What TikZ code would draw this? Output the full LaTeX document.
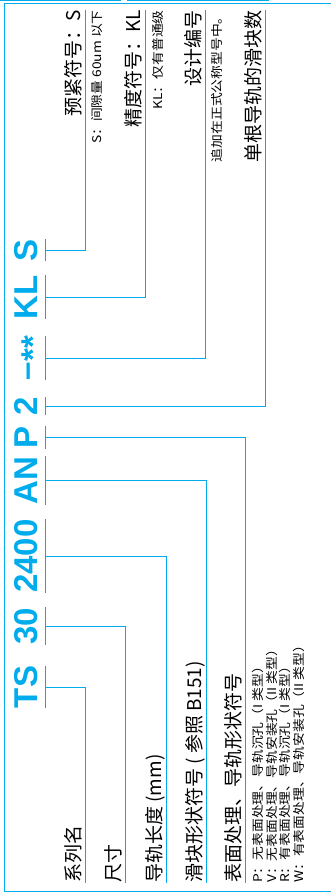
\documentclass[tikz,border=0pt]{standalone}
\usepackage{fontspec}
\newfontfamily\cjk{Noto Sans CJK SC}
\newfontfamily\cjkwide[FakeStretch=1.15]{Noto Sans CJK SC}
\newfontfamily\codefont{Liberation Sans}
\definecolor{thkblue}{RGB}{0,172,236}

\begin{document}
\begin{tikzpicture}[x=1pt,y=-1pt,
  code/.style={rotate=90,anchor=base,inner xsep=0pt,inner ysep=8.5pt,text depth=0pt,
    text=thkblue,font=\codefont\bfseries\fontsize{33pt}{33pt}\selectfont},
  lbl/.style={rotate=90,inner sep=0pt,font=\cjk\fontsize{19pt}{19pt}\selectfont},
  note/.style={rotate=90,inner sep=0pt,font=\cjkwide\fontsize{12pt}{12pt}\selectfont},
  ln/.style={draw=thkblue,line width=0.8pt}]
  \useasboundingbox (0,0) rectangle (331,895);

  % frame
  \draw[ln] (4,3) -- (331,3);
  \draw[ln] (331,891) -- (4,891) -- (4,3);
  \draw[thkblue,line width=1.2pt] (0,0.6) -- (120.5,0.6);
  \draw[thkblue,line width=1.2pt] (126.5,0.6) -- (269,0.6);

  % code string, one node per group
  \node[code] (ts)   at (37,687)   {TS};
  \node[code] (sz)   at (37,626)   {30};
  \node[code] (len)  at (37,556)   {2400};
  \node[code] (blk)  at (37,480.5) {AN};
  \node[code] (surf) at (37,437.5) {P};
  \node[code] (num)  at (37,406)   {2};
  \node[code] (des)  at (37,358)   {–\raisebox{-0.22em}{*}\raisebox{-0.22em}{*}};
  \node[code] (acc)  at (37,297)   {KL};
  \node[code] (pre)  at (37,250)   {S};

  % ticks
  \foreach \g in {ts,sz,len,blk,surf,num,des,acc,pre}{
    \draw[ln] (\g.south west) -- (\g.south east);
  }

  % line ends
  \coordinate (e1) at (85.7,883);
  \coordinate (e2) at (125.7,883);
  \coordinate (e3) at (166,883);
  \coordinate (e4) at (206.7,883);
  \coordinate (e5) at (245.7,883);
  \coordinate (u1) at (265.7,10);
  \coordinate (u2) at (205.3,10);
  \coordinate (u3) at (145.7,10);
  \coordinate (u4) at (85,10);

  % connectors
  \draw[ln] (ts.south)   -| (e1);
  \draw[ln] (sz.south)   -| (e2);
  \draw[ln] (len.south)  -| (e3);
  \draw[ln] (blk.south)  -| (e4);
  \draw[ln] (surf.south) -| (e5);
  \draw[ln] (num.south)  -| (u1);
  \draw[ln] (des.south)  -| (u2);
  \draw[ln] (acc.south)  -| (u3);
  \draw[ln] (pre.south)  -| (u4);

  % lower labels
  \node[lbl,anchor=base west] (lser)  at ([xshift=-5pt]e1) {系列名};
  \node[lbl,anchor=base west] (lsz)   at ([xshift=-5pt]e2) {尺寸};
  \node[lbl,anchor=base west] (llen)  at ([xshift=-5pt]e3) {导轨长度 (mm)};
  \node[lbl,anchor=base west] (lblk)  at ([xshift=-5pt]e4) {滑块形状符号 ( 参照 B151)};
  \node[lbl,anchor=base west] (lsurf) at ([xshift=-5pt]e5) {表面处理、导轨形状符号};
  \foreach \txt [count=\i from 0] in {P：无表面处理、导轨沉孔（I 类型）,
      V：无表面处理、导轨安装孔（II 类型）,
      R：有表面处理、导轨沉孔（I 类型）,
      W：有表面处理、导轨安装孔（II 类型）}{
    \node[note,anchor=base west] (leg\i) at ([xshift={16.5pt+\i*13.8pt}]e5) {\txt};
  }

  % upper labels
  \node[lbl,anchor=base east] (lnum) at ([xshift=-5pt]u1) {单根导轨的滑块数};
  \node[lbl,anchor=base east] (ldes) at ([xshift=-5pt]u2) {设计编号};
  \node[note,anchor=base east] (ndes) at ([xshift=16pt]u2) {追加在正式公称型号中。};
  \node[lbl,anchor=base east] (lacc) at ([xshift=-5pt]u3) {精度符号：KL};
  \node[note,anchor=base east] (nacc) at ([xshift=16.5pt]u3) {KL：仅有普通级};
  \node[lbl,anchor=base east] (lpre) at ([xshift=-5pt]u4) {预紧符号：S};
  \node[note,anchor=base east] (npre) at ([xshift=16.5pt]u4) {S：间隙量 60um 以下};
\end{tikzpicture}
\end{document}
